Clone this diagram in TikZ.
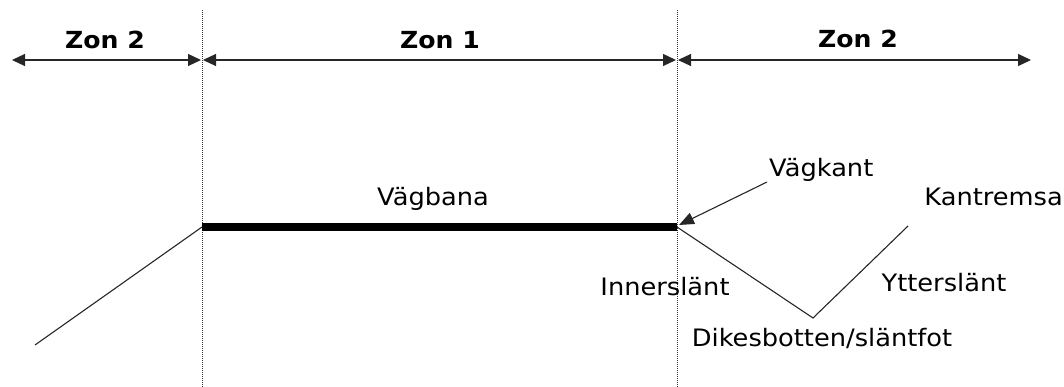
\documentclass[tikz,border=0pt]{standalone}
\usepackage{fontspec}
\setmainfont{DejaVu Sans}[FakeStretch=1.07]
\usetikzlibrary{arrows.meta}
\begin{document}
\begin{tikzpicture}[x=1pt,y=-1pt,
  lbl/.style={font=\fontsize{24}{28}\selectfont, inner sep=0pt},
  zlbl/.style={font=\bfseries\fontsize{23.5}{27}\selectfont, inner sep=0pt},
  dim/.style={line width=1.2pt, black!85, {Triangle[length=13pt,width=12pt]}-{Triangle[length=13pt,width=12pt]}},
  guide/.style={densely dotted, line width=1pt, black!80},
  ground/.style={line width=1.1pt, black!85},
  road/.style={line width=7pt}]
\useasboundingbox (0,0) rectangle (1064,387);
% guide lines
\coordinate (g1t) at (202,10); \coordinate (g1b) at (202,387);
\coordinate (g2t) at (677,10); \coordinate (g2b) at (677,387);
\draw[guide] (g1t) -- (g1b);
\draw[guide] (g2t) -- (g2b);
% dimension arrows
\coordinate (a0) at (12,60);
\coordinate (a1l) at (201,60);
\coordinate (a1r) at (203,60);
\coordinate (a2l) at (676,60);
\coordinate (a2r) at (678,60);
\coordinate (a3) at (1031,60);
\draw[dim] (a0) -- (a1l);
\draw[dim] (a1r) -- (a2l);
\draw[dim] (a2r) -- (a3);
\node[zlbl] (z2l) at (105,40) {Zon 2};
\node[zlbl] (z1) at (440,40) {Zon 1};
\node[zlbl] (z2r) at (858,39) {Zon 2};
% road and slopes
\coordinate (rl) at (202,227);
\coordinate (rr) at (677,227);
\coordinate (ls) at (35,345);
\coordinate (ditch) at (813,318);
\coordinate (top) at (908,226);
\draw[road] (rl) -- (rr);
\draw[ground] (ls) -- (rl);
\draw[ground] (rr) -- (ditch) -- (top);
% labels
\node[lbl] (vagbana) at (433,199) {Vägbana};
\node[lbl, anchor=west] (vagkant) at (769,170) {Vägkant};
\node[lbl, anchor=east] (kantremsa) at (1063,197) {Kantremsa};
\node[lbl] (inner) at (665,287) {Innerslänt};
\node[lbl] (ytter) at (944,283) {Ytterslänt};
\node[lbl] (dike) at (822,338) {Dikesbotten/släntfot};
\coordinate (vkstart) at (767,182);
\coordinate (vkend) at (679,225);
\draw[ground, -{Triangle[length=15pt,width=12pt]}] (vkstart) -- (vkend);
\end{tikzpicture}
\end{document}
